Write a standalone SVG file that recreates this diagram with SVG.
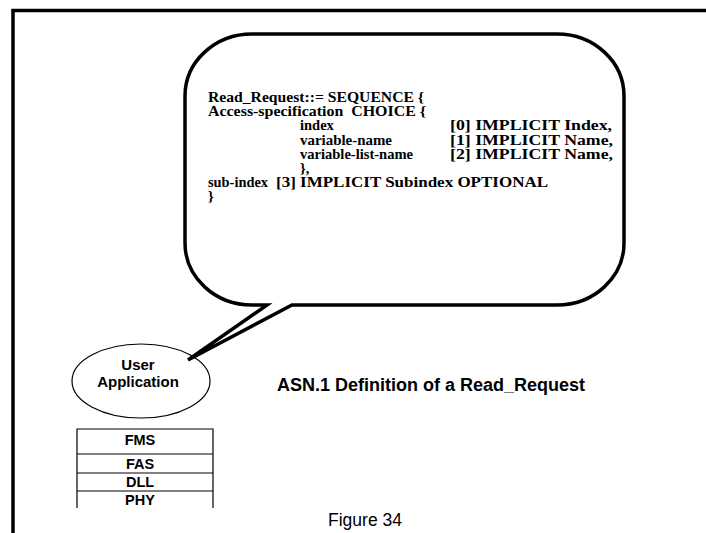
<svg xmlns="http://www.w3.org/2000/svg" width="706" height="533" viewBox="0 0 706 533">
<style>
.code{font-family:"Liberation Serif","Times New Roman",serif;font-weight:bold;font-size:14.5px;fill:#000}
.lbl{font-family:"Liberation Sans",Arial,sans-serif;font-weight:bold;font-size:15px;fill:#000;text-anchor:middle}
.stk{font-family:"Liberation Sans",Arial,sans-serif;font-weight:bold;font-size:14.5px;fill:#000;text-anchor:middle}
.thin{fill:none;stroke:#000;stroke-width:1.2}
</style>
<rect width="706" height="533" fill="#fff"/>
<g id="frame">
<path d="M13,533 V10.5 H706" fill="none" stroke="#000" stroke-width="3.5"/>
</g>
<g id="bubble">
<path d="M292,305 H557 A67,62 0 0 0 624,243 V96 A67,62 0 0 0 557,34 H252 A67,62 0 0 0 185,96 V243 A67,62 0 0 0 252,305 H267 L188,360 Z" fill="#fff" stroke="#000" stroke-width="3.5" stroke-linejoin="miter"/>
<text class="code" x="208" y="102" textLength="216" lengthAdjust="spacingAndGlyphs">Read_Request::= SEQUENCE {</text>
<text class="code" x="208" y="116.2" textLength="218" lengthAdjust="spacingAndGlyphs" xml:space="preserve">Access-specification  CHOICE {</text>
<text class="code" x="300" y="130.4">index</text>
<text class="code" x="450" y="130.4" textLength="162" lengthAdjust="spacingAndGlyphs">[0] IMPLICIT Index,</text>
<text class="code" x="300" y="144.6" textLength="92" lengthAdjust="spacingAndGlyphs">variable-name</text>
<text class="code" x="450" y="144.6" textLength="163" lengthAdjust="spacingAndGlyphs">[1] IMPLICIT Name,</text>
<text class="code" x="300" y="158.8" textLength="113" lengthAdjust="spacingAndGlyphs">variable-list-name</text>
<text class="code" x="450" y="158.8" textLength="163" lengthAdjust="spacingAndGlyphs">[2] IMPLICIT Name,</text>
<text class="code" x="300" y="173">},</text>
<text class="code" x="208" y="187.2" textLength="60" lengthAdjust="spacingAndGlyphs">sub-index</text>
<text class="code" x="276" y="187.2" textLength="272" lengthAdjust="spacingAndGlyphs">[3] IMPLICIT Subindex OPTIONAL</text>
<text class="code" x="208" y="201.4">}</text>
</g>
<g id="user-application">
<ellipse cx="141" cy="381" rx="69" ry="37" class="thin"/>
<text class="lbl" x="138" y="370">User</text>
<text class="lbl" x="138" y="387">Application</text>
</g>
<g id="stack">
<path d="M77,508 V429 H213 V508 M77,454 H213 M77,473 H213 M77,491 H213" class="thin"/>
<text class="stk" x="140" y="445">FMS</text>
<text class="stk" x="140" y="469">FAS</text>
<text class="stk" x="140" y="487">DLL</text>
<text class="stk" x="140" y="505">PHY</text>
</g>
<g id="title">
<text x="431" y="391" font-family="Liberation Sans,Arial,sans-serif" font-weight="bold" font-size="18" text-anchor="middle">ASN.1 Definition of a Read_Request</text>
</g>
<g id="caption">
<text x="365" y="526" font-family="Liberation Sans,Arial,sans-serif" font-size="17.5" text-anchor="middle">Figure 34</text>
</g>
<g id="connectors"></g>
</svg>
